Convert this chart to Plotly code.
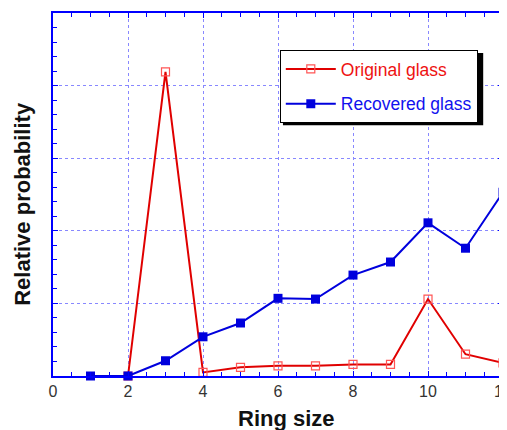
import plotly.graph_objects as go

ring_orig = [2, 3, 4, 5, 6, 7, 8, 9, 10, 11, 12]
prob_orig = [0.0, 4.19, 0.05, 0.12, 0.14, 0.14, 0.16, 0.16, 1.06, 0.30, 0.18]

ring_rec = [1, 2, 3, 4, 5, 6, 7, 8, 9, 10, 11, 12]
prob_rec = [0.0, 0.0, 0.21, 0.54, 0.73, 1.07, 1.06, 1.39, 1.57, 2.11, 1.76, 2.53]

x_ticks = [0, 2, 4, 6, 8, 10, 12]

fig = go.Figure()
fig.add_trace(go.Scatter(
    x=ring_orig, y=prob_orig, mode="lines+markers",
    name="<span style='color:#ee1111'>Original glass</span>",
    legendgroup="a",
    line=dict(color="#e00000", width=2),
    marker=dict(symbol="square-open", size=8, color="#ff5555", line=dict(width=1.2)),
    cliponaxis=False,
))
fig.add_trace(go.Scatter(
    x=ring_rec, y=prob_rec, mode="lines+markers",
    name="<span style='color:#1111ee'>Recovered glass</span>",
    legendgroup="b",
    line=dict(color="#0000dd", width=2),
    marker=dict(symbol="square", size=9, color="#0000dd"),
    cliponaxis=False,
))

# legend drop shadow
fig.add_shape(type="rect", xref="paper", yref="paper",
              x0=0.511, x1=0.956, y0=0.691, y1=0.890,
              fillcolor="black", line=dict(width=0), layer="above")

fig.add_annotation(text="<b>Ring size</b>", xref="paper", yref="paper",
                   x=0.519, y=-0.118, xanchor="center", yanchor="middle",
                   showarrow=False, font=dict(size=22, color="#111"))
fig.add_annotation(text="<b>Relative probability</b>", xref="paper", yref="paper",
                   x=-0.067, y=0.474, xanchor="center", yanchor="middle", textangle=-90,
                   showarrow=False, font=dict(size=22, color="#111"))

fig.update_layout(
    width=499, height=422,
    margin=dict(l=45, r=4, t=5, b=54, autoexpand=False),
    paper_bgcolor="white", plot_bgcolor="white",
    font=dict(family="Liberation Sans, Arial, sans-serif", size=14, color="#222"),
    showlegend=True,
    legend=dict(x=0.504, y=0.898, xanchor="left", yanchor="top",
                bgcolor="white", bordercolor="black", borderwidth=1,
                font=dict(size=17.5), itemwidth=50, tracegroupgap=9,
                traceorder="grouped"),
    xaxis=dict(
        range=[0, 12], tickvals=x_ticks, ticktext=[str(v) for v in x_ticks],
        showline=True, linecolor="#0000ff", linewidth=2, mirror="allticks",
        ticks="inside", ticklen=5, tickcolor="#0000ff", tickwidth=1,
        minor=dict(dtick=0.5, ticks="inside", ticklen=4, tickcolor="#0000ff", showgrid=False),
        showgrid=True, gridcolor="#8888ff", griddash="dot", gridwidth=1,
        zeroline=False, automargin=False, ticklabeloverflow="allow",
        tickfont=dict(size=16, color="#333"),
    ),
    yaxis=dict(
        range=[0, 5], dtick=1, showticklabels=False,
        showline=True, linecolor="#0000ff", linewidth=2, mirror="allticks",
        ticks="inside", ticklen=5, tickcolor="#0000ff", tickwidth=1,
        minor=dict(dtick=0.2, ticks="inside", ticklen=4, tickcolor="#0000ff", showgrid=False),
        showgrid=True, gridcolor="#8888ff", griddash="dot", gridwidth=1,
        zeroline=False, automargin=False,
    ),
)
fig.write_html("out.html")
